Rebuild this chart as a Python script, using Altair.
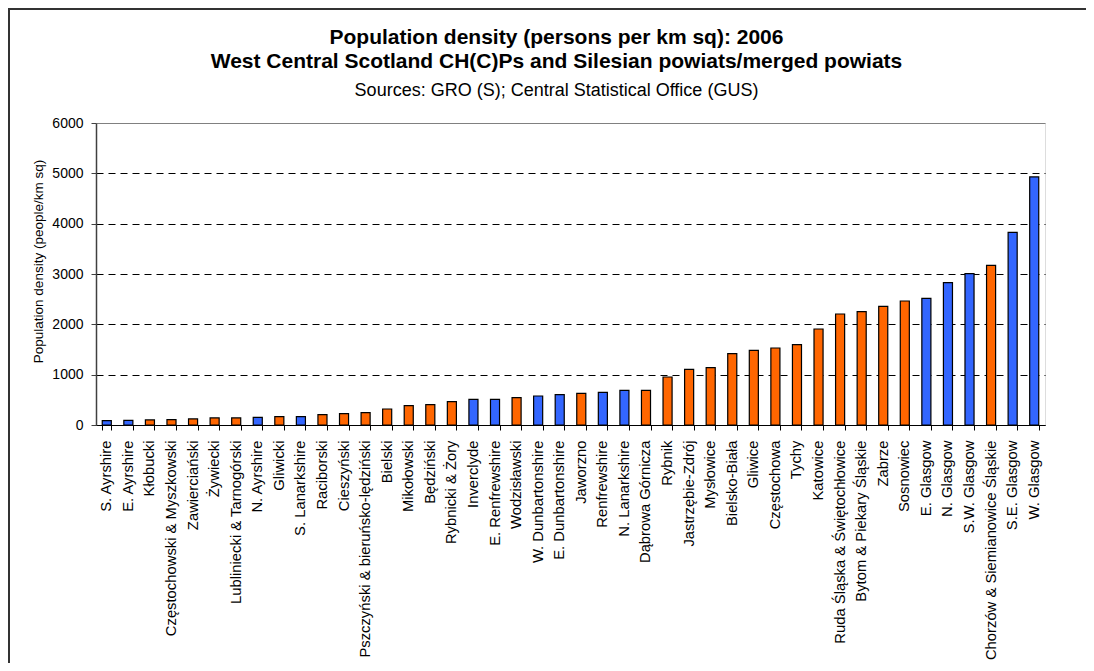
import altair as alt
import pandas as pd

categories = [
    "S. Ayrshire", "E. Ayrshire", "Kłobucki", "Częstochowski & Myszkowski", "Zawierciański",
    "Żywiecki", "Lubliniecki & Tarnogórski", "N. Ayrshire", "Gliwicki", "S. Lanarkshire",
    "Raciborski", "Cieszyński", "Pszczyński & bieruńsko-lędziński", "Bielski", "Mikołowski",
    "Będziński", "Rybnicki & Żory", "Inverclyde", "E. Renfrewshire", "Wodzisławski",
    "W. Dunbartonshire", "E. Dunbartonshire", "Jaworzno", "Renfrewshire", "N. Lanarkshire",
    "Dąbrowa Górnicza", "Rybnik", "Jastrzębie-Zdrój", "Mysłowice", "Bielsko-Biała",
    "Gliwice", "Częstochowa", "Tychy", "Katowice", "Ruda Śląska & Świętochłowice",
    "Bytom & Piekary Śląskie", "Zabrze", "Sosnowiec", "E. Glasgow", "N. Glasgow",
    "S.W. Glasgow", "Chorzów & Siemianowice Śląskie", "S.E. Glasgow", "W. Glasgow",
]
density = [
    88, 90, 100, 105, 120,
    140, 140, 152, 166, 166,
    205, 225, 245, 318, 384,
    404, 464, 510, 510, 543,
    576, 603, 629, 649, 689,
    689, 954, 1106, 1139, 1417,
    1484, 1530, 1596, 1907, 2205,
    2252, 2358, 2464, 2517, 2828,
    3007, 3173, 3828, 4928,
]
region = [
    "Scotland", "Scotland", "Silesia", "Silesia", "Silesia",
    "Silesia", "Silesia", "Scotland", "Silesia", "Scotland",
    "Silesia", "Silesia", "Silesia", "Silesia", "Silesia",
    "Silesia", "Silesia", "Scotland", "Scotland", "Silesia",
    "Scotland", "Scotland", "Silesia", "Scotland", "Scotland",
    "Silesia", "Silesia", "Silesia", "Silesia", "Silesia",
    "Silesia", "Silesia", "Silesia", "Silesia", "Silesia",
    "Silesia", "Silesia", "Silesia", "Scotland", "Scotland",
    "Scotland", "Silesia", "Scotland", "Scotland",
]
y_ticks = [0, 1000, 2000, 3000, 4000, 5000, 6000]

df = pd.DataFrame({"area": categories, "density": density, "region": region})

FONT = "Liberation Sans"

bars = alt.Chart(df).mark_bar(stroke="black", strokeWidth=1.2, strokeOpacity=1).encode(
    x=alt.X(
        "area:N",
        sort=categories,
        scale=alt.Scale(paddingInner=0.58, paddingOuter=0.29),
        axis=alt.Axis(
            title=None,
            labelAngle=270,
            labelAlign="right",
            labelBaseline="middle",
            labelFont=FONT,
            labelFontSize=14.8,
            labelColor="black",
            labelPadding=10,
            labelLimit=400,
            tickBand="extent",
            tickSize=5,
            tickColor="black",
            domainColor="black",
            domainWidth=1,
            grid=False,
            labelOverlap=False,
        ),
    ),
    y=alt.Y(
        "density:Q",
        scale=alt.Scale(domain=[0, 6000], nice=False),
        axis=alt.Axis(
            title="Population density (people/km sq)",
            titleFont=FONT,
            titleFontSize=13.5,
            titleFontWeight="normal",
            titleColor="black",
            titlePadding=6,
            titleY=138,
            values=y_ticks,
            format="d",
            labelFont=FONT,
            labelFontSize=14,
            labelColor="black",
            labelPadding=8,
            tickSize=5,
            tickColor="#404040",
            domainColor="#404040",
            domainWidth=1.5,
            grid=True,
            gridColor={"condition": {"test": "datum.value === 6000", "value": "#808080"}, "value": "black"},
            gridDash={"condition": {"test": "datum.value === 6000", "value": []}, "value": [7, 5]},
            gridWidth=1,
        ),
    ),
    fill=alt.Fill(
        "region:N",
        scale=alt.Scale(domain=["Scotland", "Silesia"], range=["#3366FF", "#FF6600"]),
        legend=None,
    ),
)

frame_left = alt.Chart(alt.Data(values=[{}])).mark_rule(
    stroke="#333333", strokeWidth=2
).encode(x=alt.value(-87), y=alt.value(-114), y2=alt.value(540))

frame_top = alt.Chart(alt.Data(values=[{}])).mark_rule(
    stroke="#333333", strokeWidth=2
).encode(y=alt.value(-114), x=alt.value(-88), x2=alt.value(990))

chart = alt.layer(bars, frame_left, frame_top).properties(
    width=949,
    height=302,
    autosize=alt.AutoSizeParams(type="none"),
    padding={"left": 88, "top": 115, "right": 41, "bottom": 238},
    title=alt.TitleParams(
        text=[
            "Population density (persons per km sq): 2006",
            "West Central Scotland CH(C)Ps and Silesian powiats/merged powiats",
        ],
        subtitle="Sources: GRO (S); Central Statistical Office (GUS)",
        font=FONT,
        fontSize=21,
        fontWeight="bold",
        color="black",
        lineHeight=24.5,
        subtitleFont=FONT,
        subtitleFontSize=18,
        subtitleColor="black",
        subtitlePadding=10,
        anchor="middle",
        frame="group",
        dx=-14,
        offset=-92,
    ),
).configure_view(
    fill="#C0C0C0", stroke="#808080", strokeWidth=1.5
).configure(background="white")

chart.save("out.html", embed_options={"renderer": "svg", "actions": False})
